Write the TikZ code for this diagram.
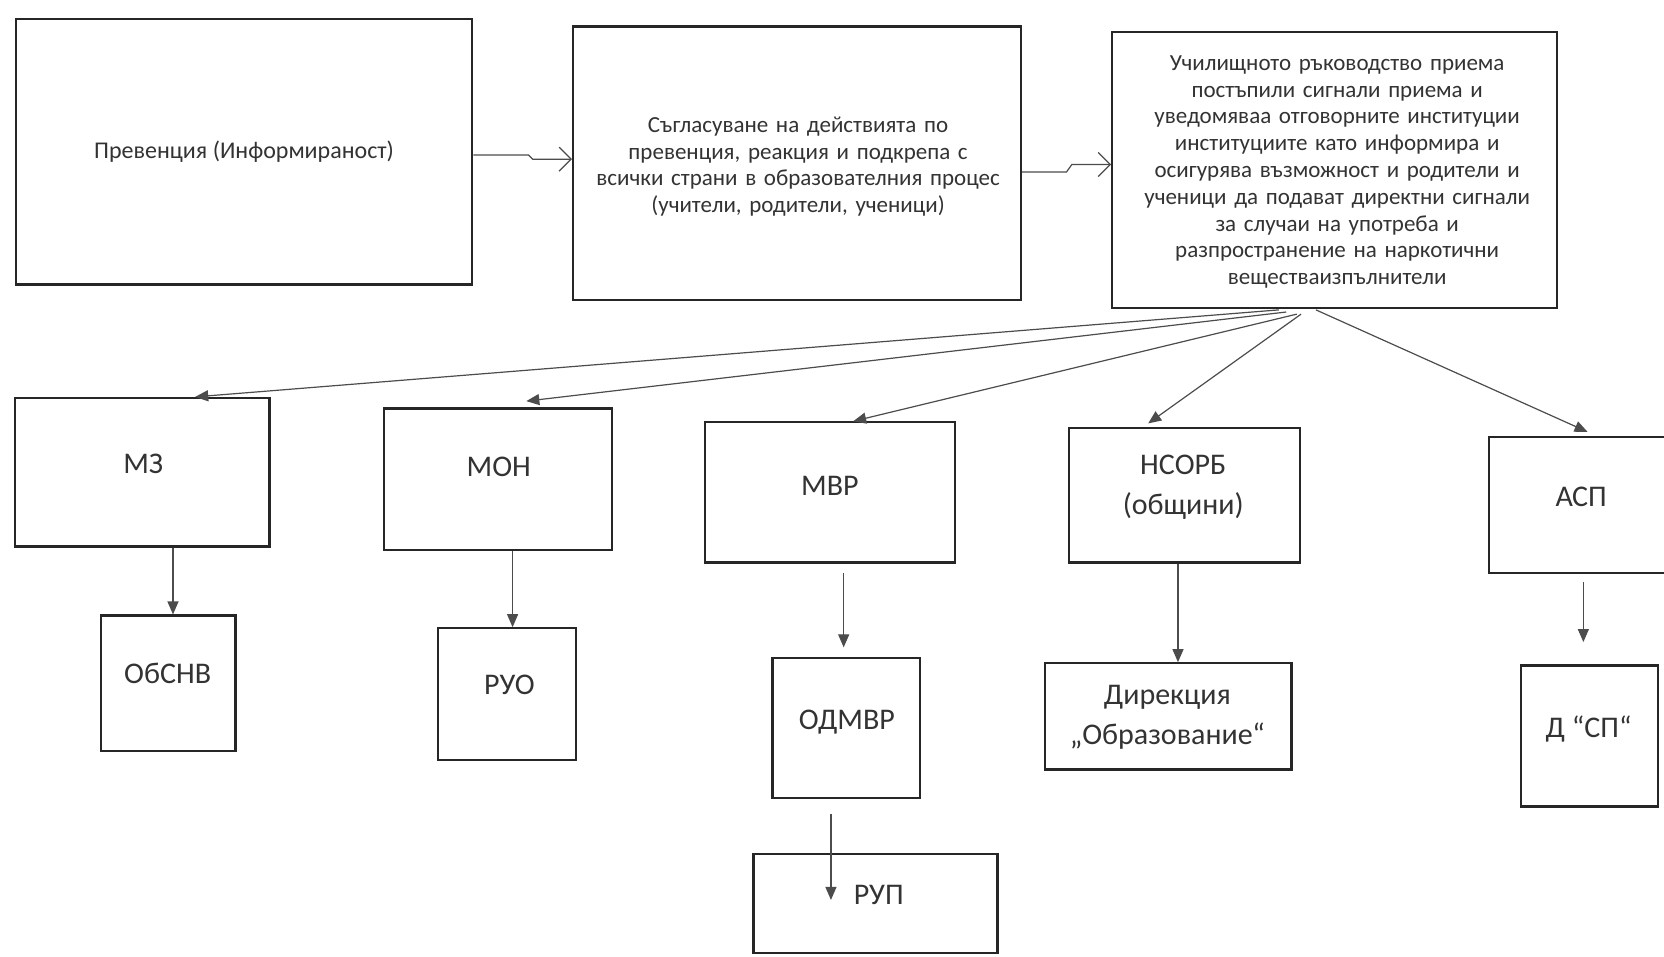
\documentclass[tikz,border=0pt]{standalone}
\usepackage{fontspec}
\setmainfont{Carlito}
\usetikzlibrary{arrows.meta,fit,calc}
\begin{document}
\begin{tikzpicture}[x=0.5306pt,y=-0.5306pt,
  box/.style={draw=black!85, line width=1.1pt, inner sep=0pt},
  conn/.style={draw=black!70, line width=0.6pt, -{Triangle[length=6.5pt,width=5.5pt]}},
  openarr/.style={draw=black!70, line width=0.6pt, -{Straight Barb[length=6pt,width=12pt]}},
  small/.style={font=\fontsize{11.5}{13.4}\selectfont, align=center, text=black!80, inner sep=0pt},
  big/.style={font=\fontsize{15}{20}\selectfont, align=center, text=black!80, inner sep=0pt}]
\useasboundingbox (0,0) rectangle (1568,901);
\fill[white] (0,0) rectangle (1568,901);

% top row
\node[box, fit={(15,18) (445,268)}] (b1) {};
\node[small, font=\fontsize{12}{14}\selectfont] (t1) at (230,143) {Превенция (Информираност)};
\node[box, fit={(540,25) (962,283)}] (b2) {};
\node[small, text width=220pt] (t2) at (752,157) {Съгласуване на действията по\\превенция, реакция и подкрепа с\\всички страни в образователния процес\\(учители, родители, ученици)};
\node[box, fit={(1048,30) (1467,290)}] (b3) {};
\node[small, text width=215pt] (t3) at (1260,162) {Училищното ръководство приема\\постъпили сигнали приема и\\уведомяваа отговорните институции\\институциите като информира и\\осигурява възможност и родители и\\ученици да подават директни сигнали\\за случаи на употреба и\\разпространение на наркотични\\веществаизпълнители};

% second row
\node[box, fit={(14,375) (254,515)}] (mz) {};
\node[big] (tmz) at (135,437) {МЗ};
\node[box, fit={(362,385) (577,518)}] (mon) {};
\node[big] (tmon) at (470,440) {МОН};
\node[box, fit={(664,398) (900,530)}] (mvr) {};
\node[big] (tmvr) at (782,458) {МВР};
\node[box, fit={(1007,403) (1225,530)}] (ns) {};
\node[big] (tns) at (1115,459) {НСОРБ\\(общини)};
\node[box, fit={(1403,412) (1600,540)}] (asp) {};
\node[big] (tasp) at (1490,468) {АСП};

% third row
\node[box, fit={(95,580) (222,708)}] (obs) {};
\node[big] (tobs) at (158,635) {ОбСНВ};
\node[box, fit={(413,592) (543,716)}] (ruo) {};
\node[big] (truo) at (480,645) {РУО};
\node[box, fit={(728,620) (867,752)}] (odm) {};
\node[big] (todm) at (798,680) {ОДМВР};
\node[box, fit={(985,625) (1217,725)}] (dir) {};
\node[big] (tdir) at (1100,676) {Дирекция\\„Образование“};
\node[box, fit={(1433,627) (1562,760)}] (dsp) {};
\node[big] (tdsp) at (1497,687) {Д “СП“};
\node[box, fit={(710,805) (940,898)}] (rup) {};
\node[big] (trup) at (828,843) {РУП};

% top connectors
\coordinate (j1a) at (498,146);
\coordinate (j1b) at (502,150);
\draw[openarr] (b1.east |- j1a) -- (j1a) -- (j1b) -- (b2.west |- j1b);
\coordinate (j2a) at (1005,162);
\coordinate (j2b) at (1010,155);
\draw[openarr] (b2.east |- j2a) -- (j2a) -- (j2b) -- (b3.west |- j2b);

% fan-out
\coordinate (s1) at (1205,292);
\coordinate (s2) at (1212,294);
\coordinate (s3) at (1222,296);
\coordinate (s4) at (1226,296);
\coordinate (s5) at (1240,292);
\draw[conn] (s1) -- ($(mz.north west)+(171,0)$);
\draw[conn] (s2) -- ($(mon.north west)+(135,-6)$);
\draw[conn] (s3) -- ($(mvr.north west)+(141,0)$);
\draw[conn] (s4) -- ($(ns.north west)+(76,-3)$);
\draw[conn] (s5) -- ($(asp.north west)+(94,-4)$);

% vertical connectors
\coordinate (v1) at (163,0);
\coordinate (v2) at (483,0);
\coordinate (v3) at (795,540);
\coordinate (v3e) at (795,610);
\coordinate (v4) at (1110,0);
\coordinate (v5) at (1492,548);
\coordinate (v5e) at (1492,605);
\coordinate (v6) at (783,767);
\coordinate (v6e) at (783,848);
\draw[conn] (mz.south -| v1) -- (obs.north -| v1);
\draw[conn] (mon.south -| v2) -- (ruo.north -| v2);
\draw[conn] (v3) -- (v3e);
\draw[conn] (ns.south -| v4) -- (dir.north -| v4);
\draw[conn] (v5) -- (v5e);
\draw[conn] (v6) -- (v6e);
\end{tikzpicture}
\end{document}
